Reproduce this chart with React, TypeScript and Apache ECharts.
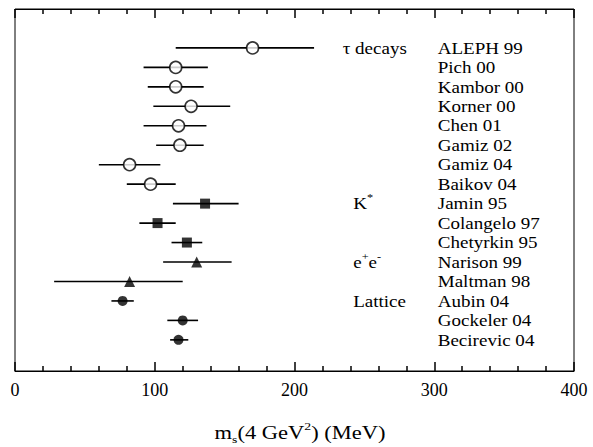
import React, { useEffect, useRef } from "react";
import * as echarts from "echarts";

const names = [
  "ALEPH 99", "Pich 00", "Kambor 00", "Korner 00", "Chen 01", "Gamiz 02", "Gamiz 04", "Baikov 04",
  "Jamin 95", "Colangelo 97", "Chetyrkin 95", "Narison 99", "Maltman 98", "Aubin 04", "Gockeler 04", "Becirevic 04",
];
const centers = [170, 115, 115, 126, 117, 118, 82, 97, 136, 102, 123, 130, 82, 77, 120, 117];
const lows = [115, 92, 95, 99, 92, 101, 60, 80, 113, 89, 112, 106, 28, 69, 109, 111];
const highs = [214, 138, 135, 154, 137, 135, 104, 115, 160, 115, 134, 155, 120, 85, 131, 124];
const methods = ["tau", "tau", "tau", "tau", "tau", "tau", "tau", "tau", "kstar", "kstar", "kstar", "ee", "ee", "lattice", "lattice", "lattice"];
const groupLabels = ["{n|τ decays}", "{n|K}{sup|*}", "{n|e}{sup|+}{n|e}{sup|-}", "{n|Lattice}"];
const groupRows = [0, 8, 11, 13];
const groupX = [234.5, 242, 242, 242];
const nameX = 302.5;
const xTicks = [0, 100, 200, 300, 400];
const xTitle = "{n|m}{sub|s}{n|(4 GeV}{sup|2}{n|) (MeV)}";

const FONT = "Liberation Serif";
const Y_MIN = -2;
const Y_MAX = 16.6;

export default function App() {
  const ref = useRef<HTMLDivElement>(null);
  useEffect(() => {
    document.body.style.margin = "0";
    const chart = echarts.init(ref.current!, null, { renderer: "svg" });
    const rows = names.map((_, i) => i);
    const markerSeries = (key: string, symbol: string, size: number, open: boolean) => ({
      type: "scatter",
      symbol,
      symbolSize: size,
      z: 5,
      itemStyle: open
        ? { color: "#fff", borderColor: "#000", borderWidth: 1.6 }
        : { color: "#000" },
      data: rows.filter((i) => methods[i] === key).map((i) => [centers[i], i]),
    });
    const axisCommon = {
      type: "value",
      min: xTicks[0],
      max: xTicks[xTicks.length - 1],
      interval: 100,
      axisLine: { show: true, onZero: false, lineStyle: { color: "#000", width: 1 } },
      axisTick: { show: true, inside: true, length: 9, lineStyle: { color: "#000", width: 1.5 } },
      minorTick: { show: true, splitNumber: 5, length: 5, lineStyle: { color: "#000", width: 1.5 } },
      splitLine: { show: false },
    };
    const supStyle = { fontFamily: FONT, fontSize: 11, fill: "#000", verticalAlign: "top", lineHeight: 22, padding: [0, 0, 8, 0] };
    chart.setOption({
      animation: false,
      grid: { left: 15, right: 19, top: 9, bottom: 76, show: true, borderColor: "#000", borderWidth: 1 },
      xAxis: [
        {
          ...axisCommon,
          position: "bottom",
          axisLabel: { color: "#000", fontFamily: FONT, fontSize: 18, margin: 10 },
        },
        { ...axisCommon, position: "top", axisLabel: { show: false } },
      ],
      yAxis: {
        type: "value",
        min: Y_MIN,
        max: Y_MAX,
        inverse: true,
        show: false,
      },
      graphic: [
        {
          type: "text",
          x: 300,
          y: 433,
          scaleX: 1.25,
          style: {
            text: xTitle,
            align: "center",
            verticalAlign: "middle",
            rich: {
              n: { fontFamily: FONT, fontSize: 18, fill: "#000", lineHeight: 24 },
              sub: { fontFamily: FONT, fontSize: 11, fill: "#000", verticalAlign: "bottom", lineHeight: 24, padding: [9, 0, 0, 0] },
              sup: { fontFamily: FONT, fontSize: 11, fill: "#000", verticalAlign: "top", lineHeight: 24, padding: [0, 0, 9, 0] },
            },
          },
        },
      ],
      series: [
        {
          type: "custom",
          encode: { x: [0, 1], y: 2 },
          data: rows.map((i) => [lows[i], highs[i], i]),
          renderItem: (params: any, api: any) => {
            const p1 = api.coord([api.value(0), api.value(2)]);
            const p2 = api.coord([api.value(1), api.value(2)]);
            return {
              type: "line",
              shape: { x1: p1[0], y1: p1[1], x2: p2[0], y2: p2[1] },
              style: { stroke: "#000", lineWidth: 1.6 },
            };
          },
          z: 2,
        },
        markerSeries("tau", "circle", 12, true),
        markerSeries("kstar", "rect", 10, false),
        markerSeries("ee", "triangle", 11, false),
        markerSeries("lattice", "circle", 10, false),
        {
          type: "custom",
          silent: true,
          data: rows.map((i) => [nameX, i]),
          renderItem: (params: any, api: any) => {
            const p = api.coord([api.value(0), api.value(1)]);
            return {
              type: "text",
              x: p[0],
              y: p[1],
              scaleX: 1.12,
              style: {
                text: names[params.dataIndex],
                fontFamily: FONT,
                fontSize: 17,
                fill: "#000",
                align: "left",
                verticalAlign: "middle",
              },
            };
          },
        },
        {
          type: "custom",
          silent: true,
          data: groupRows.map((r, k) => [groupX[k], r]),
          renderItem: (params: any, api: any) => {
            const p = api.coord([api.value(0), api.value(1)]);
            return {
              type: "text",
              x: p[0],
              y: p[1],
              scaleX: 1.12,
              style: {
                text: groupLabels[params.dataIndex],
                align: "left",
                verticalAlign: "middle",
                rich: {
                  n: { fontFamily: FONT, fontSize: 17, fill: "#000", lineHeight: 22 },
                  sup: supStyle,
                },
              },
            };
          },
        },
      ],
    });
    return () => chart.dispose();
  }, []);
  return <div ref={ref} style={{ width: 593, height: 447 }} />;
}
